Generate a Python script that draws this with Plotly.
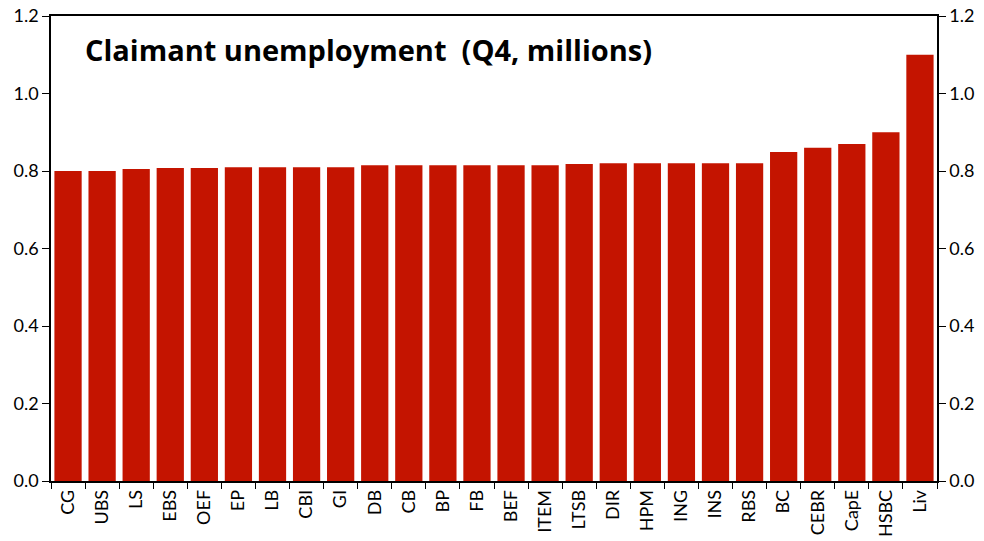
import plotly.graph_objects as go

categories = ["CG", "UBS", "LS", "EBS", "OEF", "EP", "LB", "CBI", "GI", "DB", "CB", "BP", "FB",
              "BEF", "ITEM", "LTSB", "DIR", "HPM", "ING", "INS", "RBS", "BC", "CEBR", "CapE", "HSBC", "Liv"]
values = [0.800, 0.800, 0.805, 0.808, 0.808, 0.810, 0.810, 0.810, 0.810, 0.815, 0.815, 0.815, 0.815,
          0.815, 0.815, 0.818, 0.820, 0.820, 0.820, 0.820, 0.820, 0.849, 0.860, 0.870, 0.900, 1.100]
yticks = [0.0, 0.2, 0.4, 0.6, 0.8, 1.0, 1.2]
ytick_labels = ["0.0", "0.2", "0.4", "0.6", "0.8", "1.0", "1.2"]
title_text = "Claimant unemployment  (Q4, millions)"

FONT = "Lato"
fig = go.Figure()
fig.add_trace(go.Bar(x=categories, y=values, marker=dict(color="#C41400", line=dict(width=0)),
                     hoverinfo="x+y"))
fig.add_trace(go.Scatter(x=categories, y=values, yaxis="y2", mode="markers",
                         marker=dict(opacity=0), hoverinfo="skip", showlegend=False))

axis_font = dict(family=FONT, size=18, color="black")
fig.update_layout(
    width=984, height=541,
    margin=dict(l=51, r=47, t=16, b=60, autoexpand=False),
    paper_bgcolor="white", plot_bgcolor="white",
    showlegend=False, bargap=0.2,
    xaxis=dict(type="category", showline=True, linecolor="black", linewidth=1.5, mirror=True,
               ticks="outside", tickson="boundaries", ticklen=6, tickcolor="black",
               tickangle=-90, tickfont=dict(family=FONT, size=18, color="black"),
               showgrid=False, range=[-0.5, len(categories) - 0.5], automargin=False),
    yaxis=dict(range=[0, 1.2], tickvals=yticks, ticktext=ytick_labels, showline=True,
               linecolor="black", linewidth=1.5, ticks="outside", ticklen=7, tickcolor="black",
               tickfont=axis_font, showgrid=False, zeroline=False, automargin=False,
               ticklabeloverflow="allow"),
    yaxis2=dict(range=[0, 1.2], tickvals=yticks, ticktext=ytick_labels, overlaying="y", side="right",
                showline=True, linecolor="black", linewidth=1.5, ticks="outside", ticklen=7,
                tickcolor="black", tickfont=axis_font, showgrid=False, zeroline=False, automargin=False,
                ticklabeloverflow="allow"),
    annotations=[dict(text="<b>" + title_text + "</b>", xref="paper", yref="paper", x=0.036, y=0.927,
                      xanchor="left", yanchor="middle", showarrow=False,
                      font=dict(family="Open Sans", size=29, color="black"))],
)
fig.write_html("out.html", config={"displayModeBar": False},
               post_script="document.body.style.margin='0';")
